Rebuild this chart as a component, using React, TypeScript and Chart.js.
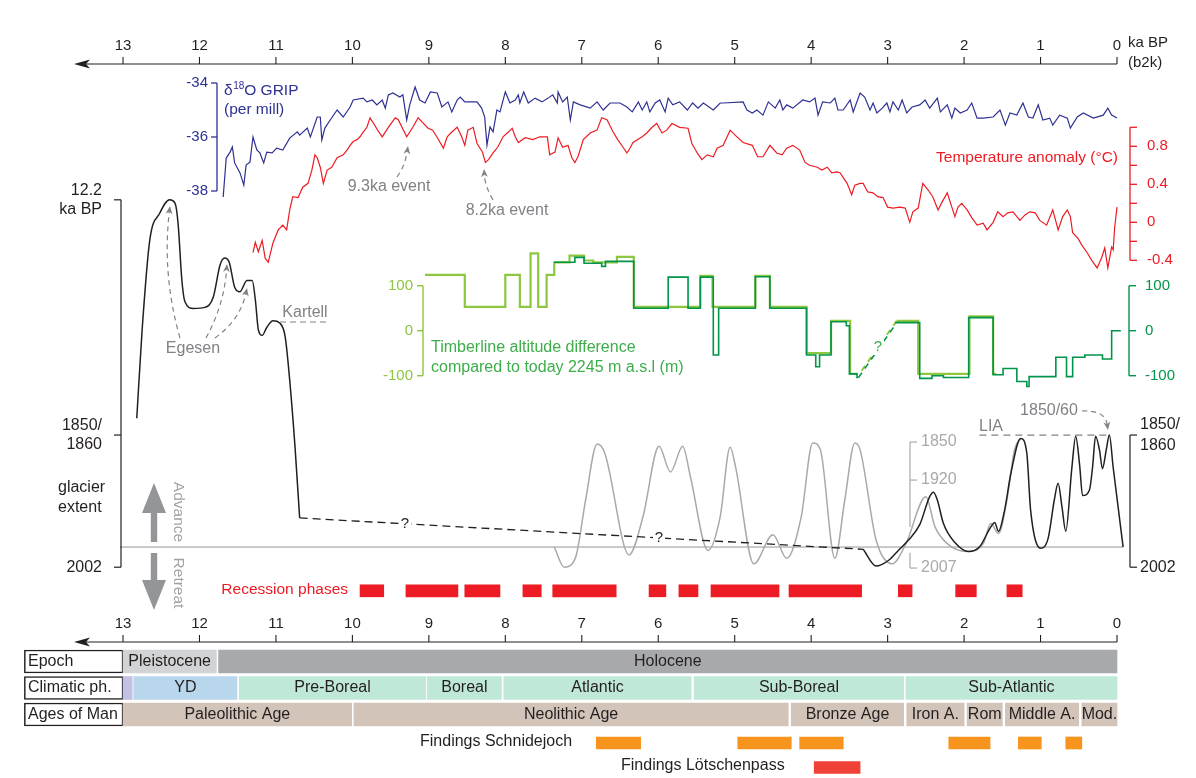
import { useEffect, useRef } from "react";
import { Chart, registerables } from "chart.js";

Chart.register(...registerables);

/* ------------------------------------------------------------------ */
/*  Data                                                               */
/* ------------------------------------------------------------------ */

// time axis, ka BP (b2k)
const KA_TICKS = [13, 12, 11, 10, 9, 8, 7, 6, 5, 4, 3, 2, 1, 0];

// δ18O GRIP (per mill): [ka BP, value]
const GRIP_D18O: [number, number][] = [
  [11.69, -38.22], [11.65, -36.78], [11.6, -36.56], [11.57, -36.37], [11.54, -36.96], [11.47, -37.33],
  [11.42, -37.78], [11.39, -37.04], [11.34, -36.93], [11.3, -36.0], [11.25, -36.48], [11.21, -36.59],
  [11.16, -36.96], [11.12, -36.56], [11.05, -36.59], [10.99, -36.41], [10.91, -36.48], [10.82, -36.04],
  [10.72, -35.81], [10.69, -35.93], [10.59, -35.67], [10.55, -36.0], [10.46, -35.26], [10.42, -35.26],
  [10.4, -36.11], [10.36, -35.67], [10.29, -35.37], [10.2, -35.0], [10.12, -35.26], [10.03, -34.89],
  [9.99, -34.63], [9.86, -34.56], [9.81, -34.7], [9.74, -34.63], [9.68, -34.81], [9.61, -34.63],
  [9.57, -34.93], [9.53, -34.44], [9.47, -34.37], [9.38, -34.52], [9.34, -34.44], [9.29, -35.37],
  [9.25, -34.81], [9.18, -34.15], [9.12, -34.63], [9.05, -34.74], [8.98, -34.33], [8.89, -34.37],
  [8.83, -34.89], [8.75, -34.7], [8.7, -35.07], [8.63, -34.63], [8.59, -34.52], [8.53, -34.7],
  [8.37, -34.7], [8.31, -34.93], [8.27, -35.26], [8.24, -36.3], [8.2, -35.63], [8.16, -35.81],
  [8.11, -35.0], [8.07, -35.07], [8.0, -34.33], [7.94, -34.74], [7.87, -34.63], [7.83, -34.44],
  [7.81, -34.74], [7.76, -34.33], [7.7, -34.74], [7.61, -34.56], [7.52, -34.7], [7.44, -34.56],
  [7.38, -34.44], [7.32, -34.74], [7.31, -34.33], [7.25, -34.7], [7.19, -34.52], [7.15, -35.37],
  [7.11, -34.7], [7.02, -34.81], [6.89, -34.93], [6.8, -34.7], [6.72, -35.0], [6.63, -34.74],
  [6.5, -34.74], [6.41, -34.89], [6.34, -35.07], [6.26, -34.7], [6.21, -35.0], [6.15, -34.7],
  [6.11, -35.07], [6.04, -34.74], [5.98, -34.63], [5.91, -35.07], [5.87, -34.56], [5.81, -34.81],
  [5.72, -34.7], [5.62, -35.0], [5.55, -34.74], [5.48, -34.93], [5.41, -34.74], [5.28, -35.0],
  [5.19, -34.74], [5.15, -34.74], [4.89, -34.7], [4.84, -35.0], [4.77, -35.11], [4.71, -35.0],
  [4.63, -35.19], [4.56, -34.7], [4.47, -34.93], [4.41, -34.63], [4.37, -35.0], [4.32, -34.81],
  [4.24, -34.93], [4.11, -34.63], [4.02, -34.7], [3.95, -34.56], [3.91, -35.19], [3.85, -34.7],
  [3.75, -34.74], [3.69, -34.56], [3.65, -35.0], [3.58, -35.0], [3.49, -34.63], [3.45, -35.07],
  [3.36, -34.37], [3.3, -34.52], [3.23, -35.0], [3.19, -34.74], [3.14, -35.11], [3.07, -34.93],
  [3.01, -34.74], [2.97, -35.07], [2.93, -34.7], [2.86, -35.0], [2.81, -34.63], [2.75, -35.11],
  [2.68, -34.89], [2.58, -34.81], [2.51, -34.63], [2.45, -34.93], [2.35, -34.56], [2.31, -35.07],
  [2.22, -34.81], [2.16, -35.3], [2.12, -34.93], [2.05, -35.11], [1.96, -35.0], [1.9, -34.74],
  [1.83, -35.3], [1.75, -35.3], [1.62, -35.26], [1.53, -35.0], [1.46, -35.56], [1.4, -35.11],
  [1.31, -35.19], [1.23, -34.74], [1.16, -35.26], [1.1, -35.3], [1.03, -34.81], [0.97, -35.37],
  [0.88, -35.3], [0.84, -35.56], [0.75, -35.19], [0.65, -35.3], [0.61, -35.67], [0.52, -35.26],
  [0.44, -35.11], [0.31, -35.3], [0.18, -35.19], [0.12, -34.93], [0.07, -35.19], [0.0, -35.3],
];

// temperature anomaly (°C): [ka BP, value]
const TEMP_ANOMALY: [number, number][] = [
  [11.3, -0.32], [11.27, -0.21], [11.23, -0.31], [11.18, -0.19], [11.14, -0.38], [11.1, -0.42],
  [11.04, -0.22], [10.97, -0.08], [10.91, -0.03], [10.86, -0.08], [10.82, 0.13], [10.78, 0.27],
  [10.71, 0.26], [10.65, 0.37], [10.58, 0.41], [10.53, 0.55], [10.49, 0.71], [10.46, 0.68],
  [10.42, 0.58], [10.38, 0.41], [10.33, 0.55], [10.27, 0.58], [10.2, 0.68], [10.12, 0.71],
  [10.07, 0.76], [10.03, 0.81], [9.99, 0.85], [9.94, 0.87], [9.9, 0.9], [9.86, 0.95], [9.81, 1.0],
  [9.77, 1.1], [9.73, 1.05], [9.67, 0.97], [9.61, 0.9], [9.57, 0.95], [9.53, 1.0], [9.44, 1.1],
  [9.4, 1.08], [9.29, 0.9], [9.21, 1.0], [9.14, 1.1], [9.08, 1.05], [9.01, 0.99], [8.95, 0.97],
  [8.88, 0.88], [8.81, 0.78], [8.76, 0.9], [8.7, 0.95], [8.63, 1.0], [8.57, 0.9], [8.53, 0.81],
  [8.49, 0.97], [8.42, 1.0], [8.37, 0.83], [8.3, 0.74], [8.26, 0.63], [8.22, 0.66], [8.16, 0.73],
  [8.1, 0.79], [8.03, 0.9], [7.96, 0.95], [7.91, 0.99], [7.87, 0.9], [7.83, 0.84], [7.74, 0.89],
  [7.64, 0.87], [7.55, 0.9], [7.45, 0.9], [7.42, 0.71], [7.35, 0.74], [7.31, 0.89], [7.25, 0.79],
  [7.18, 0.81], [7.13, 0.68], [7.09, 0.63], [7.05, 0.69], [6.98, 0.87], [6.89, 0.94], [6.8, 0.97],
  [6.74, 1.1], [6.67, 1.08], [6.59, 0.95], [6.53, 0.87], [6.46, 0.79], [6.41, 0.73], [6.37, 0.78],
  [6.33, 0.84], [6.21, 0.9], [6.15, 0.94], [6.08, 1.0], [6.02, 1.04], [5.95, 0.94], [5.89, 0.97],
  [5.82, 1.04], [5.72, 1.0], [5.61, 0.99], [5.56, 0.83], [5.49, 0.73], [5.43, 0.66], [5.36, 0.71],
  [5.28, 0.69], [5.23, 0.78], [5.15, 0.81], [5.06, 0.97], [4.97, 0.9], [4.89, 0.84], [4.77, 0.81],
  [4.7, 0.69], [4.63, 0.69], [4.54, 0.81], [4.45, 0.73], [4.38, 0.71], [4.32, 0.78], [4.24, 0.81],
  [4.15, 0.76], [4.08, 0.63], [4.02, 0.6], [3.92, 0.58], [3.86, 0.55], [3.79, 0.58], [3.73, 0.52],
  [3.66, 0.53], [3.62, 0.52], [3.58, 0.47], [3.53, 0.41], [3.47, 0.29], [3.43, 0.39], [3.36, 0.41],
  [3.32, 0.41], [3.26, 0.32], [3.19, 0.31], [3.13, 0.27], [3.06, 0.26], [3.0, 0.16], [2.93, 0.15],
  [2.84, 0.16], [2.77, 0.15], [2.71, 0.0], [2.67, 0.11], [2.6, 0.15], [2.54, 0.41], [2.47, 0.34],
  [2.41, 0.27], [2.34, 0.13], [2.29, 0.21], [2.22, 0.31], [2.16, 0.16], [2.12, 0.06], [2.08, 0.16],
  [2.03, 0.2], [1.96, 0.13], [1.9, 0.05], [1.83, -0.03], [1.75, -0.01], [1.7, -0.08], [1.62, 0.0],
  [1.56, 0.11], [1.49, 0.06], [1.43, 0.1], [1.36, 0.11], [1.27, 0.02], [1.2, 0.08], [1.14, 0.11],
  [1.07, 0.1], [1.01, 0.02], [0.92, -0.03], [0.84, 0.13], [0.77, -0.08], [0.71, 0.06], [0.65, 0.13],
  [0.61, 0.06], [0.58, -0.11], [0.51, -0.17], [0.46, -0.24], [0.39, -0.32], [0.33, -0.4],
  [0.26, -0.48], [0.2, -0.37], [0.16, -0.27], [0.12, -0.48], [0.07, -0.26], [0.05, -0.29],
  [0.03, -0.05], [0.0, 0.16],
];

// timberline altitude difference (m), step series: each value holds until the next ka; null = gap
const TIMBER_LIGHT: [number, number | null][] = [
  [9.05, 124], [8.53, 53], [8.0, 124], [7.81, 53], [7.67, 172], [7.57, 53], [7.46, 124], [7.36, 152],
  [7.16, 167], [6.97, 156], [6.85, 152], [6.54, 164], [6.32, 53], [5.45, 122], [5.29, 53], [4.73, 122],
  [4.54, 53], [4.06, -50], [3.74, 22], [3.49, -96], [3.4, -96], [3.39, null],
  [2.88, 22], [2.6, -96], [1.93, 32], [1.62, -96], [1.58, -96],
];
const TIMBER_DARK: [number, number | null][] = [
  [7.36, 152], [7.09, 163], [6.97, 150], [6.74, 143], [6.69, 154], [6.32, 50], [5.87, 119], [5.61, 50],
  [5.45, 119], [5.28, -54], [5.21, 50], [4.73, 120], [4.54, 50], [4.06, -54], [3.94, -80], [3.89, -54],
  [3.74, 20], [3.54, 11], [3.5, -96], [3.4, -104], [3.38, -104], [3.37, null],
  [2.9, 18], [2.58, -106], [2.42, -100], [2.27, -104], [1.94, 29], [1.62, -98], [1.49, -84],
  [1.31, -113], [1.18, -124], [1.15, -102], [0.8, -59], [0.66, -102], [0.58, -59], [0.42, -54],
  [0.19, -63], [0.07, 0], [-0.05, 0],
];
// uncertain interval (drawn dashed)
const TIMBER_LIGHT_GAP: [number, number][] = [[3.34, -89], [2.88, 22]];
const TIMBER_DARK_GAP: [number, number][] = [[3.38, -104], [2.9, 13]];

// glacier extent, relative units: 0 = 2002 reference line, 1 = 1850/60 maximum
const GLACIER_LATEGLACIAL: [number, number][] = [
  [12.82, 1.15], [12.75, 1.94], [12.65, 2.74], [12.52, 2.98], [12.39, 3.1], [12.32, 3.07], [12.28, 2.89],
  [12.23, 2.38], [12.19, 2.19], [12.08, 2.13], [11.93, 2.14], [11.82, 2.23], [11.73, 2.52], [11.67, 2.58],
  [11.61, 2.54], [11.54, 2.32], [11.47, 2.28], [11.38, 2.38], [11.31, 2.38], [11.27, 2.21], [11.23, 1.94],
  [11.18, 1.89], [11.12, 1.96], [11.04, 2.02], [10.95, 2.0], [10.88, 1.88], [10.82, 1.49], [10.75, 0.89],
  [10.69, 0.26],
];
const GLACIER_HOLOCENE: [number, number][] = [
  [3.32, -0.02], [3.15, -0.17], [2.99, -0.12], [2.86, -0.03], [2.73, 0.06], [2.58, 0.2], [2.45, 0.45],
  [2.4, 0.49], [2.35, 0.42], [2.27, 0.21], [2.12, 0.04], [1.94, -0.04], [1.8, 0.0], [1.65, 0.18],
  [1.6, 0.22], [1.55, 0.14], [1.47, 0.33], [1.39, 0.65], [1.26, 0.97], [1.18, 0.84], [1.13, 0.33],
  [1.0, -0.01], [0.9, 0.08], [0.82, 0.42], [0.77, 0.57], [0.72, 0.36], [0.67, 0.14], [0.59, 0.71],
  [0.54, 0.99], [0.49, 0.74], [0.45, 0.46], [0.36, 0.51], [0.32, 0.71], [0.28, 0.99], [0.23, 0.87],
  [0.19, 0.7], [0.14, 0.87], [0.1, 1.0], [0.05, 0.71], [-0.08, 0.0],
];
// second glacier record (grey scale 1850 / 1920 / 2007)
const GLACIER_SECOND: [number, number][] = [
  [7.36, 0.0], [7.23, -0.18], [7.08, -0.09], [6.95, 0.42], [6.8, 0.92], [6.7, 0.84], [6.38, -0.07],
  [6.2, 0.27], [5.99, 0.9], [5.84, 0.67], [5.68, 0.9], [5.58, 0.63], [5.35, -0.03], [5.19, 0.27],
  [5.06, 0.89], [4.99, 0.72], [4.75, -0.15], [4.5, 0.11], [4.32, -0.1], [4.13, 0.27], [3.98, 0.93],
  [3.88, 0.87], [3.69, -0.1], [3.56, 0.42], [3.43, 0.93], [3.36, 0.87], [3.15, 0.06], [2.94, -0.15],
  [2.76, 0.03], [2.5, 0.45], [2.38, 0.18], [2.22, 0.03], [1.96, -0.04], [1.75, 0.03], [1.65, 0.21],
  [1.55, 0.12], [1.44, 0.42], [1.34, 0.87], [1.26, 0.97],
];
const GLACIER_REFERENCE: [number, number][] = [[13.04, 0], [-0.08, 0]];
const LIA_SPAN: [number, number][] = [[1.8, 1], [0.09, 1]];

// recession phases and findings, [from ka, to ka]
const RECESSION_PHASES: [number, number][] = [
  [9.9, 9.59], [9.3, 8.62], [8.53, 8.07], [7.77, 7.53], [7.38, 6.55], [6.12, 5.9], [5.73, 5.48],
  [5.31, 4.42], [4.29, 3.34], [2.86, 2.68], [2.11, 1.84], [1.44, 1.24],
];
const FINDINGS_SCHNIDEJOCH: [number, number][] = [
  [6.81, 6.23], [4.96, 4.26], [4.15, 3.58], [2.2, 1.66], [1.29, 0.99], [0.67, 0.46],
];
const FINDINGS_LOETSCHENPASS: [number, number][] = [[3.96, 3.36]];

// chronology table
const TABLE_ROWS = ["Epoch", "Climatic ph.", "Ages of Man"];
const EPOCH_NAMES = ["Pleistocene", "Holocene"];
const EPOCH_SPANS: [number, number][] = [[13.0, 11.78], [11.75, 0]];
const CLIMATE_NAMES = ["", "YD", "Pre-Boreal", "Boreal", "Atlantic", "Sub-Boreal", "Sub-Atlantic"];
const CLIMATE_SPANS: [number, number][] = [
  [13.0, 12.88], [12.86, 11.51], [11.48, 9.04], [9.02, 8.05], [8.02, 5.57], [5.53, 2.79], [2.76, 0],
];
const AGE_NAMES = ["Paleolithic Age", "Neolithic Age", "Bronze Age", "Iron A.", "Rom", "Middle A.", "Mod."];
const AGE_SPANS: [number, number][] = [
  [13.0, 10.01], [9.98, 4.3], [4.26, 2.79], [2.75, 2.0], [1.96, 1.5], [1.46, 0.5], [0.46, 0],
];

// axis ticks
const GRIP_TICKS = [-34, -36, -38];
const TEMP_TICKS = [1.0, 0.8, 0.6, 0.4, 0.2, 0, -0.2, -0.4];
const TEMP_TICK_LABELS = [0.8, 0.4, 0, -0.4];
const TIMBER_TICKS = [100, 0, -100];
const GLACIER_TICKS_LEFT = [
  { v: 3.1, text: ["12.2", "ka BP"] },
  { v: 1, text: ["1850/", "1860"] },
  { v: -0.18, text: ["2002"] },
];
const GLACIER_TICKS_RIGHT = [
  { v: 1, text: ["1850/", "1860"] },
  { v: -0.18, text: ["2002"] },
];
const SECOND_TICKS = [
  { v: 0.9375, text: "1850" },
  { v: 0.598, text: "1920" },
  { v: -0.1875, text: "2007" },
];

/* ------------------------------------------------------------------ */
/*  Styling / layout                                                   */
/* ------------------------------------------------------------------ */

const W = 1196;
const H = 778;
const FONT = '"Liberation Sans", Arial, Helvetica, sans-serif';
const INK = "#231f20";
const GREY_TXT = "#808285";
const GREY_ARROW = "#939598";
const GREY_AXIS = "#a7a9ac";
const BLUE = "#2e3192";
const RED = "#ed1c24";
const LIGHT_GREEN = "#8dc63f";
const DARK_GREEN = "#00954a";
const TITLE_GREEN = "#3cae49";
const ORANGE = "#f7941d";
const PASS_RED = "#ef4136";

const EPOCH_COLORS = ["#d1d3d4", "#a7a9ac"];
const CLIMATE_COLORS = ["#c0c1e3", "#b8d6ec", "#bfe8d7", "#bfe8d7", "#bfe8d7", "#bfe8d7", "#bfe8d7"];
const AGE_COLORS = ["#d2c4b9", "#d2c4b9", "#d2c4b9", "#d2c4b9", "#d2c4b9", "#d2c4b9", "#d2c4b9"];

// row lanes of the bottom panel (lane scale units)
const LANE_RECESSION = -2.668;
const LANE_EPOCH = 0;
const LANE_CLIMATE = 1;
const LANE_AGES = 2;
const LANE_SCHNIDEJOCH = 3.075;
const LANE_LOETSCHEN = 4.0;
const ROW_HEADER_SPAN: [number, number] = [14.29, 13.0];

/* ------------------------------------------------------------------ */
/*  Drawing helpers for the overlay                                    */
/* ------------------------------------------------------------------ */

type Ctx = CanvasRenderingContext2D;

function write(ctx: Ctx, s: string, x: number, y: number, color: string, size = 16, align: CanvasTextAlign = "left") {
  ctx.font = `${size}px ${FONT}`;
  ctx.fillStyle = color;
  ctx.textAlign = align;
  ctx.textBaseline = "middle";
  ctx.fillText(s, x, y);
}

function stroke(ctx: Ctx, pts: number[][], color: string, width = 1, dash: number[] = []) {
  ctx.save();
  ctx.strokeStyle = color;
  ctx.lineWidth = width;
  ctx.setLineDash(dash);
  ctx.beginPath();
  pts.forEach(([x, y], i) => (i ? ctx.lineTo(x, y) : ctx.moveTo(x, y)));
  ctx.stroke();
  ctx.restore();
}

function tip(ctx: Ctx, x: number, y: number, ang: number, color: string, len = 8, half = 3.4) {
  ctx.save();
  ctx.translate(x, y);
  ctx.rotate(ang);
  ctx.fillStyle = color;
  ctx.beginPath();
  ctx.moveTo(0, 0);
  ctx.lineTo(-len, -half);
  ctx.lineTo(-len * 0.72, 0);
  ctx.lineTo(-len, half);
  ctx.closePath();
  ctx.fill();
  ctx.restore();
}

// dashed quadratic arrow from (x0,y0) to (x1,y1)
function curvedArrow(ctx: Ctx, x0: number, y0: number, cx: number, cy: number, x1: number, y1: number, color: string) {
  const ang = Math.atan2(y1 - cy, x1 - cx);
  const ex = x1 - Math.cos(ang) * 6;
  const ey = y1 - Math.sin(ang) * 6;
  ctx.save();
  ctx.strokeStyle = color;
  ctx.lineWidth = 1.2;
  ctx.setLineDash([5, 4]);
  ctx.beginPath();
  ctx.moveTo(x0, y0);
  ctx.quadraticCurveTo(cx, cy, ex, ey);
  ctx.stroke();
  ctx.restore();
  tip(ctx, x1, y1, ang, color);
}

function blockArrow(ctx: Ctx, cx: number, shaftFrom: number, headBase: number, tipY: number, color: string) {
  ctx.save();
  ctx.fillStyle = color;
  ctx.fillRect(cx - 3.2, Math.min(shaftFrom, headBase), 6.4, Math.abs(headBase - shaftFrom));
  ctx.beginPath();
  ctx.moveTo(cx - 12, headBase);
  ctx.lineTo(cx + 12, headBase);
  ctx.lineTo(cx, tipY);
  ctx.closePath();
  ctx.fill();
  ctx.restore();
}

function maskedMark(ctx: Ctx, s: string, x: number, y: number, color: string) {
  ctx.fillStyle = "#fff";
  ctx.fillRect(x - 6, y - 8, 12, 16);
  write(ctx, s, x, y, color, 15, "center");
}

const overlay = {
  id: "overlay",
  afterDatasetsDraw(chart: any) {
    const ctx: Ctx = chart.ctx;
    const X = (ka: number) => chart.scales.x.getPixelForValue(ka);
    const Y = (id: string, v: number) => chart.scales[id].getPixelForValue(v);
    ctx.save();

    /* time axes, top and bottom */
    for (const [yl, yt] of [[64, 46], [642, 624]]) {
      stroke(ctx, [[84, yl], [X(0), yl]], INK, 1.1);
      ctx.fillStyle = INK;
      ctx.beginPath();
      ctx.moveTo(74, yl);
      ctx.lineTo(90, yl - 4.5);
      ctx.lineTo(86, yl);
      ctx.lineTo(90, yl + 4.5);
      ctx.closePath();
      ctx.fill();
      for (const t of KA_TICKS) {
        const x = X(t);
        stroke(ctx, [[x, yl], [x, yl - 7]], INK, 1.1);
        write(ctx, String(t), x, yt, INK, 15, "center");
      }
    }
    write(ctx, "ka BP", 1128, 43, INK, 15);
    write(ctx, "(b2k)", 1128, 63, INK, 15);

    /* δ18O GRIP axis */
    const gx = 217;
    stroke(ctx, [[gx, Y("grip", -34)], [gx, Y("grip", -38)]], BLUE, 1.3);
    for (const v of GRIP_TICKS) {
      const y = Y("grip", v);
      stroke(ctx, [[gx - 6, y], [gx, y]], BLUE, 1.3);
      write(ctx, String(v), gx - 9, y, BLUE, 15, "right");
    }
    {
      let x = 224;
      ctx.font = `15.5px ${FONT}`;
      write(ctx, "δ", x, 91, BLUE, 15.5);
      x += ctx.measureText("δ").width + 0.5;
      write(ctx, "18", x, 86, BLUE, 10);
      ctx.font = `10px ${FONT}`;
      x += ctx.measureText("18").width;
      write(ctx, "O GRIP", x, 91, BLUE, 15.5);
      write(ctx, "(per mill)", 224, 110, BLUE, 15.5);
    }

    /* temperature axis */
    const tx = 1130;
    stroke(ctx, [[tx, Y("temp", 1.0)], [tx, Y("temp", -0.4)]], RED, 1.3);
    for (const v of TEMP_TICKS) {
      const y = Y("temp", v);
      stroke(ctx, [[tx, y], [tx + 7, y]], RED, 1.3);
    }
    for (const v of TEMP_TICK_LABELS) write(ctx, v === 0 ? "0" : v.toFixed(1), 1147, Y("temp", v), RED, 15);
    write(ctx, "Temperature anomaly (°C)", 1118, 158, RED, 15.5, "right");

    /* timberline axes */
    const lx = 423;
    const rx = 1129;
    stroke(ctx, [[lx, Y("timber", 100)], [lx, Y("timber", -100)]], LIGHT_GREEN, 1.4);
    stroke(ctx, [[rx, Y("timber", 100)], [rx, Y("timber", -100)]], DARK_GREEN, 1.4);
    for (const v of TIMBER_TICKS) {
      const y = Y("timber", v);
      stroke(ctx, [[lx - 6, y], [lx, y]], LIGHT_GREEN, 1.4);
      write(ctx, String(v), lx - 10, y, LIGHT_GREEN, 15, "right");
      stroke(ctx, [[rx, y], [rx + 7, y]], DARK_GREEN, 1.4);
      write(ctx, String(v), 1145, y, DARK_GREEN, 15);
    }
    write(ctx, "Timberline altitude difference", 431, 348, TITLE_GREEN, 16);
    write(ctx, "compared to today 2245 m a.s.l (m)", 431, 368, TITLE_GREEN, 16);
    maskedMark(ctx, "?", 878, 347, TITLE_GREEN);

    /* glacier extent axes */
    const ax = 121;
    stroke(ctx, [[ax, Y("glacier", 3.1)], [ax, Y("glacier", -0.18)]], INK, 1.2);
    for (const t of GLACIER_TICKS_LEFT) {
      const y = Y("glacier", t.v);
      stroke(ctx, [[ax - 7, y], [ax, y]], INK, 1.2);
      if (t.text.length === 2) {
        write(ctx, t.text[0], 102, y - 9, INK, 16, "right");
        write(ctx, t.text[1], 102, y + 10, INK, 16, "right");
      } else write(ctx, t.text[0], 102, y, INK, 16, "right");
    }
    write(ctx, "glacier", 58, 488, INK, 16);
    write(ctx, "extent", 58, 508, INK, 16);
    const bx = 1130;
    stroke(ctx, [[bx, Y("glacier", 1)], [bx, Y("glacier", -0.18)]], INK, 1.2);
    for (const t of GLACIER_TICKS_RIGHT) {
      const y = Y("glacier", t.v);
      stroke(ctx, [[bx, y], [bx + 7, y]], INK, 1.2);
      if (t.text.length === 2) {
        write(ctx, t.text[0], 1140, y - 10, INK, 16);
        write(ctx, t.text[1], 1140, y + 11, INK, 16);
      } else write(ctx, t.text[0], 1140, y, INK, 16);
    }
    const sx = 910;
    stroke(ctx, [[sx, Y("glacier", 0.9375)], [sx, Y("glacier", 0.18)]], GREY_AXIS, 1.2);
    stroke(ctx, [[sx, Y("glacier", -0.05)], [sx, Y("glacier", -0.1875)]], GREY_AXIS, 1.2);
    for (const t of SECOND_TICKS) {
      const y = Y("glacier", t.v);
      stroke(ctx, [[sx, y], [sx + 7, y]], GREY_AXIS, 1.2);
      write(ctx, t.text, 921, y, GREY_AXIS, 16);
    }

    /* advance / retreat */
    blockArrow(ctx, 154, 542, 513, 483, GREY_ARROW);
    blockArrow(ctx, 154, 553, 580, 610, GREY_ARROW);
    for (const [s, cy] of [["Advance", 512], ["Retreat", 583]] as [string, number][]) {
      ctx.save();
      ctx.translate(178, cy);
      ctx.rotate(Math.PI / 2);
      write(ctx, s, 0, 0, "#a0a2a5", 15.5, "center");
      ctx.restore();
    }

    /* annotations */
    write(ctx, "Egesen", 193, 349, GREY_TXT, 16, "center");
    curvedArrow(ctx, 180, 338, 162, 275, 170, 206, GREY_TXT);
    curvedArrow(ctx, 206, 338, 224, 305, 227, 264, GREY_TXT);
    curvedArrow(ctx, 215, 338, 240, 320, 247, 288, GREY_TXT);
    write(ctx, "Kartell", 305, 313, GREY_TXT, 16, "center");
    stroke(ctx, [[280, 322], [328, 322]], GREY_TXT, 1.1, [6, 4]);
    write(ctx, "9.3ka event", 389, 187, GREY_TXT, 16, "center");
    curvedArrow(ctx, 397, 177, 405, 166, 408, 146, GREY_TXT);
    write(ctx, "8.2ka event", 507, 211, GREY_TXT, 16, "center");
    curvedArrow(ctx, 493, 200, 485, 186, 484, 169, GREY_TXT);
    write(ctx, "LIA", 979, 427, GREY_TXT, 16);
    write(ctx, "1850/60", 1049, 411, GREY_TXT, 16, "center");
    curvedArrow(ctx, 1082, 411, 1105, 410, 1108, 430, GREY_TXT);
    maskedMark(ctx, "?", 405, 524, INK);
    maskedMark(ctx, "?", 659, 538, INK);

    /* bottom panel labels */
    write(ctx, "Recession phases", 348, 590, RED, 15.5, "right");
    write(ctx, "Findings Schnidejoch", 420, 742, INK, 16);
    write(ctx, "Findings Lötschenpass", 621, 766, INK, 16);
    const lanes = [LANE_EPOCH, LANE_CLIMATE, LANE_AGES];
    TABLE_ROWS.forEach((r, i) => write(ctx, r, 28, Y("lanes", lanes[i]), INK, 16));
    const cells: [string[], [number, number][], number][] = [
      [EPOCH_NAMES, EPOCH_SPANS, LANE_EPOCH],
      [CLIMATE_NAMES, CLIMATE_SPANS, LANE_CLIMATE],
      [AGE_NAMES, AGE_SPANS, LANE_AGES],
    ];
    for (const [names, spans, lane] of cells) {
      names.forEach((n, i) => {
        if (!n) return;
        const cx = (X(spans[i][0]) + X(spans[i][1])) / 2;
        write(ctx, n, cx, Y("lanes", lane), INK, 16, "center");
      });
    }
    ctx.restore();
  },
};

/* ------------------------------------------------------------------ */
/*  Chart configuration                                                */
/* ------------------------------------------------------------------ */

const pts = (arr: [number, number | null][]) => arr.map(([x, y]) => ({ x, y }));

function line(data: [number, number | null][], yAxisID: string, color: string, width: number, extra: any = {}) {
  return {
    type: "line",
    data: pts(data),
    xAxisID: "x",
    yAxisID,
    borderColor: color,
    borderWidth: width,
    pointRadius: 0,
    fill: false,
    tension: 0,
    spanGaps: false,
    ...extra,
  };
}

function bars(lane: number, spans: [number, number][], colors: string | string[], thickness: number, extra: any = {}) {
  return {
    type: "bar",
    indexAxis: "y",
    xAxisID: "x",
    yAxisID: "lanes",
    stack: "lanes",
    grouped: true,
    data: spans.map(([a, b]) => ({ x: [a, b], y: lane })),
    backgroundColor: colors,
    barThickness: thickness,
    borderWidth: 0,
    borderSkipped: false,
    ...extra,
  };
}

function buildConfig(): any {
  const yLinear = (min: number, max: number, reverse = false) => ({
    type: "linear",
    axis: "y",
    min,
    max,
    reverse,
    display: false,
    offset: false,
    beginAtZero: false,
  });
  return {
    type: "line",
    data: {
      datasets: [
        line(GLACIER_HOLOCENE, "glacier", INK, 1.5, { cubicInterpolationMode: "monotone" }),
        line(GLACIER_LATEGLACIAL, "glacier", INK, 1.5, { cubicInterpolationMode: "monotone" }),
        line([GLACIER_LATEGLACIAL[GLACIER_LATEGLACIAL.length - 1], GLACIER_HOLOCENE[0]], "glacier", INK, 1.3, {
          borderDash: [8, 5],
        }),
        line(GLACIER_SECOND, "glacier", GREY_AXIS, 1.5, { cubicInterpolationMode: "monotone" }),
        line(LIA_SPAN, "glacier", GREY_TXT, 1.2, { borderDash: [7, 5] }),
        line(GLACIER_REFERENCE, "glacier", GREY_ARROW, 1),
        line(TIMBER_DARK, "timber", DARK_GREEN, 1.6, { stepped: "before" }),
        line(TIMBER_LIGHT, "timber", LIGHT_GREEN, 2.2, { stepped: "before" }),
        line(TIMBER_DARK_GAP, "timber", DARK_GREEN, 1.5, { borderDash: [6, 5] }),
        line(TIMBER_LIGHT_GAP, "timber", LIGHT_GREEN, 2, { borderDash: [6, 5] }),
        line(TEMP_ANOMALY, "temp", RED, 1.2),
        line(GRIP_D18O, "grip", BLUE, 1.2),
        bars(LANE_RECESSION, RECESSION_PHASES, RED, 12),
        bars(LANE_SCHNIDEJOCH, FINDINGS_SCHNIDEJOCH, ORANGE, 12),
        bars(LANE_LOETSCHEN, FINDINGS_LOETSCHENPASS, PASS_RED, 12),
        bars(LANE_EPOCH, EPOCH_SPANS, EPOCH_COLORS, 23),
        bars(LANE_CLIMATE, CLIMATE_SPANS, CLIMATE_COLORS, 23),
        bars(LANE_AGES, AGE_SPANS, AGE_COLORS, 23),
        bars(0, [ROW_HEADER_SPAN], "#ffffff", 23, { borderWidth: 1.5, borderColor: INK }),
        bars(1, [ROW_HEADER_SPAN], "#ffffff", 23, { borderWidth: 1.5, borderColor: INK }),
        bars(2, [ROW_HEADER_SPAN], "#ffffff", 23, { borderWidth: 1.5, borderColor: INK }),
      ],
    },
    options: {
      responsive: false,
      maintainAspectRatio: false,
      animation: false,
      devicePixelRatio: 1,
      events: [],
      layout: { padding: 0 },
      plugins: { legend: { display: false }, tooltip: { enabled: false }, title: { display: false } },
      scales: {
        // 13 ka at x=123, 0 ka at x=1117
        x: { type: "linear", axis: "x", min: -1.0332, max: 14.6089, reverse: true, display: false, offset: false, stacked: false, beginAtZero: false },
        grip: yLinear(-59.741, -30.926),
        temp: yLinear(-5.849, 2.34),
        timber: yLinear(-994, 734.9),
        glacier: yLinear(-2.062, 4.884),
        lanes: yLinear(-24.962, 4.396, true),
      },
    },
    plugins: [overlay],
  };
}

export default function App() {
  const ref = useRef<HTMLCanvasElement>(null);
  useEffect(() => {
    if (!ref.current) return;
    const chart = new Chart(ref.current, buildConfig());
    return () => chart.destroy();
  }, []);
  return (
    <div style={{ position: "fixed", left: 0, top: 0, width: W, height: H, background: "#fff" }}>
      <canvas ref={ref} width={W} height={H} style={{ display: "block", width: W, height: H }} />
    </div>
  );
}
